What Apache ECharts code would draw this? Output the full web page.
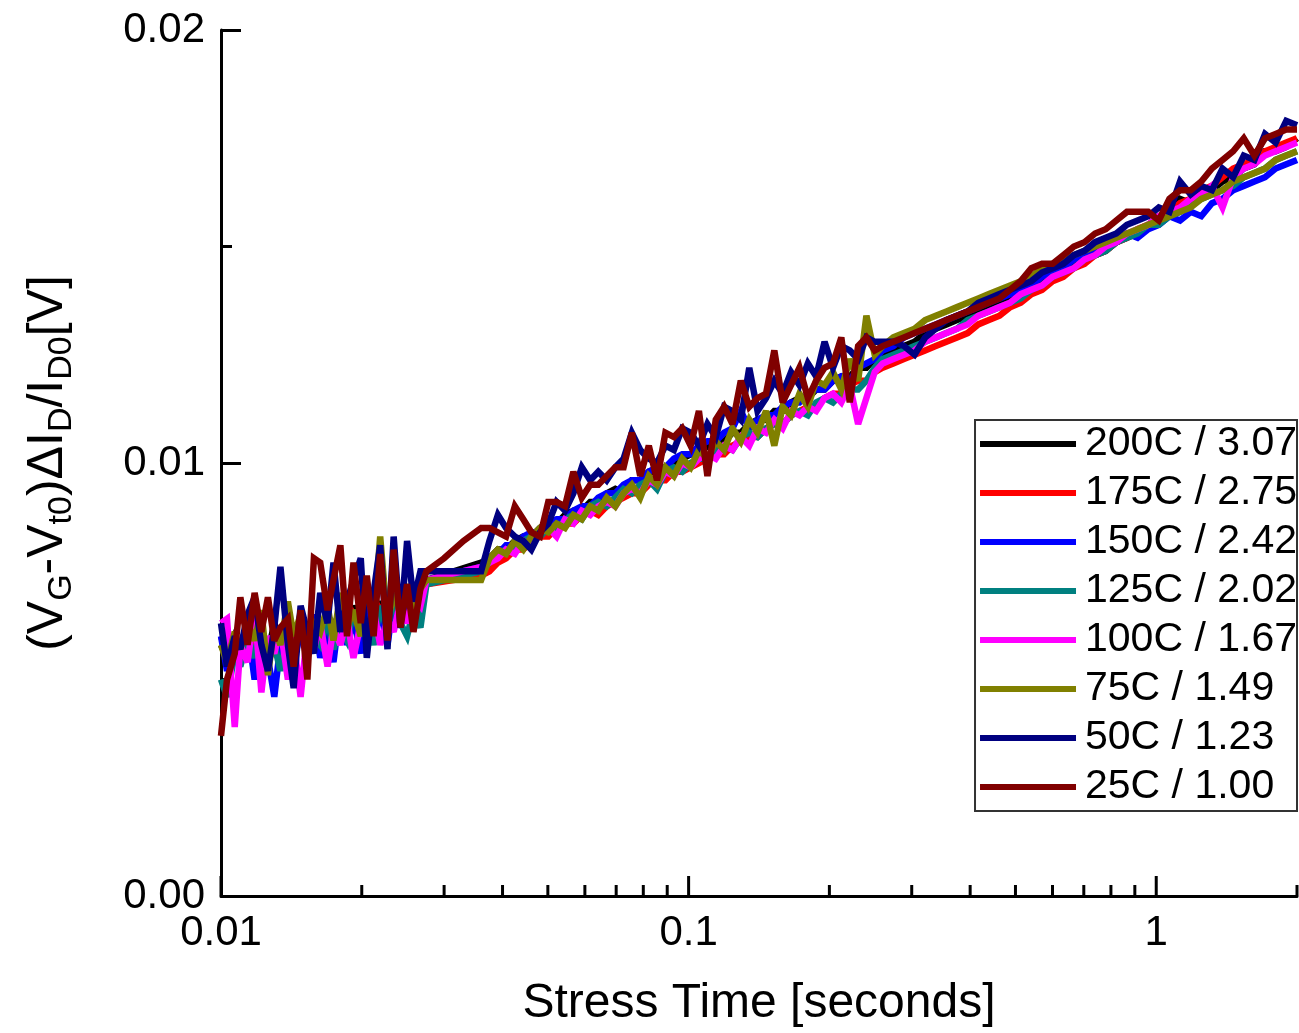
<!DOCTYPE html>
<html>
<head>
<meta charset="utf-8">
<script src="https://cdn.jsdelivr.net/npm/echarts@6/dist/echarts.min.js"></script>
<style>
html,body{margin:0;padding:0;background:#fff;}
#chart{width:1299px;height:1033px;}
</style>
</head>
<body>
<div id="chart"></div>
<script>
// Stress time [s] (shared sampling; indices 32,33 only sampled in 25C trace)
const times = [
0.0100,0.0103,0.0107,0.0110,0.0114,0.0118,0.0122,0.0126,0.0130,0.0134,0.0139,0.0143,0.0148,0.0153,0.0158,0.0163,0.0169,0.0174,0.0180,0.0186,0.0192,0.0199,0.0205,0.0212,0.0219,0.0227,0.0234,0.0242,0.0250,0.0258,0.0267,0.0275,
0.0300,0.0330,
0.0360,0.0375,0.0391,0.0407,0.0425,0.0443,0.0461,0.0481,0.0501,0.0522,0.0544,0.0567,0.0591,0.0616,0.0641,0.0668,0.0697,0.0726,0.0756,0.0788,0.0822,0.0856,0.0892,0.0930,0.0969,0.1010,0.1052,0.1097,0.1143,0.1191,0.1241,0.1293,0.1348,0.1404,0.1464,0.1525,0.1589,0.1656,0.1726,0.1799,0.1874,0.1953,0.2036,0.2121,0.2211,0.2304,0.2400,0.2500,
0.2600,0.2740,0.2887,0.3042,0.3205,0.3377,0.3559,0.3750,0.3951,0.4163,0.4387,0.4622,0.4870,0.5132,0.5407,0.5698,0.6003,0.6326,0.6665,0.7023,0.7400,0.7797,0.8216,0.8657,0.9122,0.9611,1.0127,1.0671,1.1244,1.1848,1.2484,1.3154,1.3860,1.4605,1.5389,1.6215,1.7086,1.8003,1.8970,2.0000
];

const seriesNames = ['200C / 3.07','175C / 2.75','150C / 2.42','125C / 2.02','100C / 1.67','75C / 1.49','50C / 1.23','25C / 1.00'];
const seriesColors = ['#000000','#FF0000','#0000FF','#008080','#FF00FF','#808000','#000080','#800000'];

const v200 = [
0.0058,0.0055,0.0060,0.0057,0.0062,0.0058,0.0061,0.0056,0.0063,0.0059,0.0062,0.0058,0.0064,0.0060,0.0063,0.0061,0.0065,0.0062,0.0066,0.0061,0.0067,0.0063,0.0066,0.0062,0.0068,0.0064,0.0069,0.0065,0.0070,0.0067,0.0071,0.0073,
null,null,
0.0077,0.0078,0.0080,0.0080,0.0082,0.0083,0.0083,0.0085,0.0086,0.0086,0.0088,0.0089,0.0089,0.0091,0.0091,0.0093,0.0094,0.0093,0.0096,0.0096,0.0098,0.0098,0.0099,0.0100,0.0101,0.0102,0.0102,0.0104,0.0105,0.0105,0.0107,0.0107,0.0109,0.0110,0.0110,0.0112,0.0112,0.0114,0.0115,0.0115,0.0117,0.0117,0.0119,0.0120,0.0120,0.0122,0.0122,0.0124,
0.0125,0.0126,0.0127,0.0128,0.0130,0.0131,0.0132,0.0133,0.0134,0.0135,0.0136,0.0137,0.0138,0.0139,0.0141,0.0142,0.0143,0.0144,0.0146,0.0147,0.0148,0.0149,0.0151,0.0152,0.0153,0.0155,0.0156,0.0158,0.0161,0.0160,0.0162,0.0163,0.0165,0.0166,0.0168,0.0169,0.0172,0.0172,0.0173,0.0175
];
const v175 = [
0.0060,0.0056,0.0059,0.0055,0.0061,0.0057,0.0062,0.0056,0.0060,0.0058,0.0063,0.0057,0.0062,0.0059,0.0064,0.0060,0.0063,0.0061,0.0066,0.0060,0.0065,0.0062,0.0067,0.0061,0.0066,0.0063,0.0068,0.0064,0.0069,0.0066,0.0070,0.0072,
null,null,
0.0074,0.0075,0.0077,0.0078,0.0080,0.0080,0.0082,0.0083,0.0083,0.0085,0.0086,0.0086,0.0088,0.0089,0.0088,0.0090,0.0091,0.0092,0.0093,0.0093,0.0095,0.0096,0.0096,0.0098,0.0098,0.0099,0.0100,0.0101,0.0102,0.0102,0.0104,0.0105,0.0106,0.0106,0.0108,0.0109,0.0109,0.0111,0.0112,0.0113,0.0113,0.0115,0.0116,0.0116,0.0118,0.0119,0.0119,0.0121,
0.0122,0.0123,0.0124,0.0125,0.0126,0.0127,0.0128,0.0129,0.0130,0.0132,0.0133,0.0134,0.0136,0.0137,0.0139,0.0140,0.0142,0.0143,0.0145,0.0146,0.0148,0.0149,0.0151,0.0152,0.0154,0.0155,0.0157,0.0158,0.0160,0.0161,0.0163,0.0164,0.0166,0.0168,0.0169,0.0170,0.0172,0.0173,0.0174,0.0175
];
const v150 = [
0.0060,0.0052,0.0058,0.0054,0.0062,0.0050,0.0060,0.0055,0.0046,0.0058,0.0063,0.0054,0.0061,0.0057,0.0065,0.0055,0.0062,0.0054,0.0067,0.0058,0.0064,0.0056,0.0069,0.0060,0.0066,0.0058,0.0068,0.0062,0.0070,0.0063,0.0069,0.0073,
null,null,
0.0076,0.0078,0.0079,0.0081,0.0081,0.0083,0.0084,0.0084,0.0086,0.0087,0.0087,0.0089,0.0090,0.0090,0.0092,0.0093,0.0093,0.0095,0.0096,0.0096,0.0098,0.0099,0.0099,0.0101,0.0102,0.0102,0.0104,0.0105,0.0105,0.0107,0.0108,0.0112,0.0108,0.0110,0.0111,0.0111,0.0113,0.0114,0.0114,0.0116,0.0117,0.0117,0.0119,0.0120,0.0119,0.0122,0.0123,0.0124,
0.0126,0.0127,0.0129,0.0130,0.0131,0.0132,0.0133,0.0134,0.0135,0.0136,0.0137,0.0138,0.0139,0.0140,0.0141,0.0143,0.0144,0.0145,0.0147,0.0148,0.0149,0.0150,0.0151,0.0153,0.0152,0.0154,0.0155,0.0157,0.0156,0.0158,0.0157,0.0160,0.0161,0.0163,0.0164,0.0165,0.0166,0.0168,0.0169,0.0170
];
const v125 = [
0.0050,0.0046,0.0056,0.0053,0.0060,0.0055,0.0062,0.0054,0.0058,0.0052,0.0061,0.0056,0.0063,0.0055,0.0060,0.0058,0.0064,0.0057,0.0062,0.0059,0.0066,0.0060,0.0064,0.0058,0.0067,0.0061,0.0069,0.0063,0.0060,0.0066,0.0062,0.0072,
null,null,
0.0075,0.0077,0.0079,0.0080,0.0080,0.0082,0.0083,0.0083,0.0085,0.0084,0.0087,0.0088,0.0087,0.0090,0.0091,0.0090,0.0092,0.0094,0.0093,0.0095,0.0096,0.0094,0.0098,0.0099,0.0098,0.0100,0.0101,0.0101,0.0103,0.0104,0.0103,0.0106,0.0107,0.0106,0.0108,0.0109,0.0109,0.0111,0.0112,0.0111,0.0114,0.0115,0.0114,0.0116,0.0117,0.0117,0.0119,0.0122,
0.0124,0.0125,0.0126,0.0127,0.0128,0.0129,0.0130,0.0131,0.0133,0.0134,0.0135,0.0136,0.0137,0.0138,0.0140,0.0141,0.0143,0.0144,0.0145,0.0147,0.0148,0.0149,0.0151,0.0152,0.0153,0.0155,0.0155,0.0157,0.0158,0.0160,0.0161,0.0162,0.0163,0.0164,0.0166,0.0167,0.0168,0.0170,0.0171,0.0172
];
const v100 = [
0.0063,0.0064,0.0039,0.0058,0.0054,0.0066,0.0047,0.0060,0.0056,0.0062,0.0050,0.0059,0.0046,0.0061,0.0057,0.0063,0.0053,0.0062,0.0058,0.0064,0.0055,0.0063,0.0060,0.0066,0.0058,0.0064,0.0061,0.0068,0.0063,0.0069,0.0067,0.0073,
null,null,
0.0076,0.0077,0.0078,0.0080,0.0079,0.0082,0.0081,0.0084,0.0085,0.0083,0.0087,0.0086,0.0089,0.0088,0.0090,0.0091,0.0090,0.0093,0.0094,0.0093,0.0096,0.0095,0.0098,0.0097,0.0100,0.0099,0.0101,0.0102,0.0101,0.0104,0.0103,0.0106,0.0104,0.0108,0.0107,0.0110,0.0108,0.0112,0.0111,0.0113,0.0112,0.0115,0.0116,0.0114,0.0118,0.0109,0.0115,0.0121,
0.0123,0.0124,0.0125,0.0126,0.0128,0.0129,0.0130,0.0131,0.0132,0.0134,0.0135,0.0136,0.0137,0.0139,0.0140,0.0141,0.0143,0.0144,0.0145,0.0147,0.0148,0.0150,0.0151,0.0153,0.0154,0.0155,0.0157,0.0158,0.0159,0.0161,0.0162,0.0164,0.0159,0.0166,0.0168,0.0169,0.0171,0.0172,0.0173,0.0174
];
const v75 = [
0.0058,0.0054,0.0061,0.0057,0.0063,0.0059,0.0066,0.0051,0.0062,0.0058,0.0068,0.0060,0.0065,0.0057,0.0063,0.0061,0.0067,0.0059,0.0070,0.0062,0.0066,0.0060,0.0072,0.0064,0.0083,0.0063,0.0070,0.0065,0.0072,0.0066,0.0071,0.0073,
null,null,
0.0073,0.0078,0.0080,0.0079,0.0082,0.0080,0.0083,0.0085,0.0084,0.0086,0.0085,0.0088,0.0087,0.0090,0.0089,0.0092,0.0090,0.0093,0.0095,0.0092,0.0097,0.0095,0.0099,0.0097,0.0101,0.0099,0.0103,0.0101,0.0105,0.0103,0.0108,0.0105,0.0110,0.0107,0.0112,0.0104,0.0113,0.0111,0.0116,0.0113,0.0119,0.0118,0.0121,0.0117,0.0124,0.0119,0.0134,0.0125,
0.0127,0.0129,0.0130,0.0131,0.0133,0.0134,0.0135,0.0136,0.0137,0.0138,0.0139,0.0140,0.0141,0.0142,0.0143,0.0145,0.0146,0.0147,0.0148,0.0149,0.0150,0.0151,0.0152,0.0153,0.0154,0.0155,0.0156,0.0157,0.0158,0.0159,0.0161,0.0162,0.0163,0.0165,0.0166,0.0167,0.0168,0.0170,0.0171,0.0172
];
const v50 = [
0.0063,0.0053,0.0060,0.0057,0.0065,0.0069,0.0058,0.0052,0.0062,0.0076,0.0058,0.0048,0.0067,0.0061,0.0056,0.0070,0.0063,0.0077,0.0061,0.0068,0.0073,0.0078,0.0055,0.0070,0.0081,0.0057,0.0083,0.0062,0.0082,0.0068,0.0075,0.0075,
null,null,
0.0075,0.0082,0.0088,0.0085,0.0083,0.0082,0.0080,0.0084,0.0086,0.0091,0.0089,0.0093,0.0099,0.0096,0.0098,0.0096,0.0099,0.0101,0.0107,0.0103,0.0101,0.0100,0.0104,0.0103,0.0108,0.0107,0.0104,0.0109,0.0106,0.0113,0.0112,0.0110,0.0122,0.0112,0.0115,0.0119,0.0116,0.0121,0.0118,0.0123,0.0120,0.0128,0.0122,0.0127,0.0126,0.0124,0.0129,0.0128,
0.0128,0.0128,0.0127,0.0125,0.0129,0.0131,0.0133,0.0134,0.0135,0.0137,0.0138,0.0139,0.0140,0.0141,0.0142,0.0144,0.0145,0.0146,0.0148,0.0149,0.0151,0.0152,0.0153,0.0155,0.0156,0.0157,0.0159,0.0158,0.0165,0.0162,0.0164,0.0163,0.0168,0.0166,0.0171,0.0170,0.0176,0.0174,0.0179,0.0178
];
const v25 = [
0.0037,0.0050,0.0056,0.0069,0.0058,0.0070,0.0061,0.0069,0.0059,0.0062,0.0064,0.0053,0.0066,0.0050,0.0078,0.0077,0.0066,0.0073,0.0081,0.0060,0.0077,0.0063,0.0074,0.0060,0.0079,0.0059,0.0080,0.0062,0.0072,0.0061,0.0071,0.0075,
0.0078,0.0082,
0.0085,0.0085,0.0084,0.0083,0.0090,0.0087,0.0084,0.0083,0.0091,0.0091,0.0090,0.0098,0.0092,0.0095,0.0095,0.0097,0.0099,0.0099,0.0107,0.0097,0.0104,0.0096,0.0107,0.0106,0.0108,0.0104,0.0112,0.0097,0.0110,0.0113,0.0109,0.0119,0.0113,0.0115,0.0116,0.0126,0.0114,0.0118,0.0122,0.0115,0.0119,0.0122,0.0123,0.0129,0.0114,0.0127,0.0129,0.0126,
0.0127,0.0128,0.0129,0.0130,0.0131,0.0132,0.0133,0.0134,0.0135,0.0136,0.0137,0.0138,0.0140,0.0142,0.0145,0.0146,0.0146,0.0148,0.0150,0.0151,0.0153,0.0154,0.0156,0.0158,0.0158,0.0158,0.0156,0.0161,0.0163,0.0163,0.0165,0.0168,0.0170,0.0172,0.0175,0.0171,0.0175,0.0176,0.0177,0.0177
];
const seriesValues = [v200, v175, v150, v125, v100, v75, v50, v25];

// Axis ticks
const xMajorTicks = [0.01, 0.1, 1];
const xTickLabels = ['0.01', '0.1', '1'];
const xMinorTicks = [0.02,0.03,0.04,0.05,0.06,0.07,0.08,0.09,0.2,0.3,0.4,0.5,0.6,0.7,0.8,0.9,2];
const yTickLabels = ['0.00', '0.01', '0.02'];

const FONT = "'Liberation Sans', Arial, sans-serif";

const chart = echarts.init(document.getElementById('chart'), null, {renderer: 'canvas'});

const lineSeries = seriesNames.map((name, k) => ({
  name: name,
  type: 'line',
  data: times.map((t, i) => [t, seriesValues[k][i]]),
  showSymbol: false,
  symbol: 'none',
  connectNulls: true,
  color: seriesColors[k],
  lineStyle: {width: 6.5, color: seriesColors[k], join: 'miter', miterLimit: 3},
  emphasis: {disabled: true},
  animation: false,
  z: 2
}));

const tickData = xMajorTicks.map(v => [v, 1]).concat(xMinorTicks.map(v => [v, 0]));

const tickSeries = {
  type: 'custom',
  name: 'ticks',
  data: tickData,
  clip: false,
  silent: true,
  z: 5,
  animation: false,
  renderItem: function (params, api) {
    const p = api.coord([api.value(0), 0]);
    const len = api.value(1) ? 20 : 11;
    return {
      type: 'line',
      shape: {x1: p[0], y1: p[1], x2: p[0], y2: p[1] - len},
      style: {stroke: '#000', lineWidth: 3}
    };
  }
};

const yName = '{n|(V}{s|G}{n|-V}{s|t0}{n|)ΔI}{s|D}{n|/I}{s|D0}{n|[V]}';

chart.setOption({
  animation: false,
  backgroundColor: '#ffffff',
  grid: {left: 221, right: 2, top: 30, bottom: 134, containLabel: false},
  legend: {
    data: seriesNames,
    orient: 'vertical',
    right: 2,
    top: 420,
    itemWidth: 96,
    itemHeight: 6,
    icon: 'rect',
    itemGap: 5,
    padding: [2, 0, 2, 5],
    borderColor: '#333',
    borderWidth: 2,
    backgroundColor: '#fff',
    selectedMode: false,
    textStyle: {fontSize: 41, fontFamily: FONT, color: '#000', lineHeight: 44, padding: [0, 0, 0, 4]}
  },
  xAxis: {
    type: 'log',
    logBase: 10,
    min: 0.01,
    max: 2,
    name: 'Stress Time [seconds]',
    nameLocation: 'middle',
    nameGap: 84,
    nameTextStyle: {fontSize: 48, fontFamily: FONT, color: '#000'},
    axisLine: {show: true, onZero: false, lineStyle: {color: '#000', width: 3}},
    axisTick: {show: false},
    minorTick: {show: false},
    splitLine: {show: false},
    minorSplitLine: {show: false},
    axisLabel: {
      fontSize: 42, fontFamily: FONT, color: '#000', margin: 16,
      showMaxLabel: false,
      formatter: function (v) {
        const i = xMajorTicks.findIndex(t => Math.abs(t - v) / t < 1e-6);
        return i >= 0 ? xTickLabels[i] : '';
      }
    }
  },
  yAxis: {
    type: 'value',
    min: 0,
    max: 0.02,
    interval: 0.01,
    name: yName,
    nameLocation: 'middle',
    nameRotate: 90,
    nameGap: 142,
    nameTextStyle: {
      color: '#000',
      rich: {
        n: {fontSize: 50, fontFamily: FONT, color: '#000', lineHeight: 30, verticalAlign: 'top'},
        s: {fontSize: 34, fontFamily: FONT, color: '#000', lineHeight: 56, verticalAlign: 'bottom'}
      }
    },
    axisLine: {show: true, lineStyle: {color: '#000', width: 3}},
    axisTick: {show: true, inside: true, length: 20, lineStyle: {color: '#000', width: 3}},
    minorTick: {show: true, splitNumber: 2, length: 11, lineStyle: {color: '#000', width: 3}},
    splitLine: {show: false},
    minorSplitLine: {show: false},
    axisLabel: {
      fontSize: 42, fontFamily: FONT, color: '#000', margin: 16,
      formatter: function (v) {
        const i = Math.round(v / 0.01);
        return yTickLabels[i] !== undefined ? yTickLabels[i] : '';
      }
    }
  },
  series: lineSeries.concat([tickSeries])
});
</script>
</body>
</html>
